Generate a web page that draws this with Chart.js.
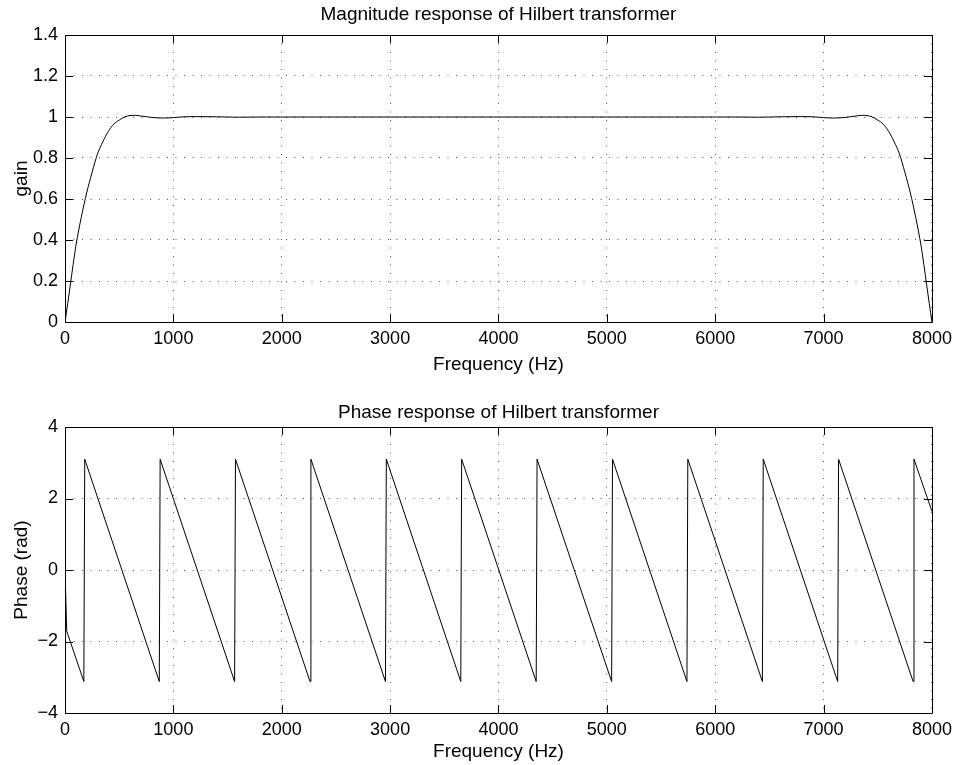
<!DOCTYPE html>
<html>
<head>
<meta charset="utf-8">
<script src="https://cdn.jsdelivr.net/npm/chart.js@4/dist/chart.umd.min.js"></script>
<style>
  html, body { margin: 0; padding: 0; background: #fff; }
  #wrap { position: relative; width: 958px; height: 765px; overflow: hidden; }
  .box { position: absolute; left: 0; width: 958px; }
</style>
</head>
<body>
<div id="wrap">
  <div class="box" id="b1" style="top:0px;height:380px;"><canvas id="c1"></canvas></div>
  <div class="box" id="b2" style="top:390px;height:375px;"><canvas id="c2"></canvas></div>
</div>
<script>
// ---- Data ----
const freqTicks = [0, 1000, 2000, 3000, 4000, 5000, 6000, 7000, 8000];
const gainTicks = [0, 0.2, 0.4, 0.6, 0.8, 1, 1.2, 1.4];
const phaseTicks = [-4, -2, 0, 2, 4];

const magFreq = [0, 25, 50, 75, 100, 150, 200, 250, 300, 350, 400, 450, 500, 550, 600, 650, 700, 800, 900, 1000, 1100, 1200, 1400, 1600, 1800, 2000, 2500, 3000, 3500, 4000, 4500, 5000, 5500, 6000, 6200, 6400, 6600, 6800, 6900, 7000, 7100, 7200, 7300, 7350, 7400, 7450, 7500, 7550, 7600, 7650, 7700, 7750, 7800, 7850, 7900, 7925, 7950, 7975, 8000];
const magGain = [0, 0.09, 0.185, 0.28, 0.37, 0.51, 0.63, 0.73, 0.82, 0.88, 0.93, 0.965, 0.985, 1.0, 1.007, 1.008, 1.005, 0.998, 0.995, 0.997, 1.001, 1.002, 1.001, 0.999, 1.0, 1.0, 1.0, 1.0, 1.0, 1.0, 1.0, 1.0, 1.0, 1.0, 1.0, 0.999, 1.001, 1.002, 1.001, 0.997, 0.995, 0.998, 1.005, 1.008, 1.007, 1.0, 0.985, 0.965, 0.93, 0.88, 0.82, 0.73, 0.63, 0.51, 0.37, 0.28, 0.185, 0.09, 0];

const phaseFreq = [0, 16, 174, 182, 870, 878, 1565, 1573, 2261, 2269, 2957, 2965, 3652, 3660, 4348, 4356, 5044, 5052, 5739, 5747, 6435, 6443, 7130, 7138, 7826, 7834, 8000];
const phaseRad = [0, -1.71, -3.12, 3.1, -3.12, 3.1, -3.12, 3.1, -3.12, 3.1, -3.12, 3.1, -3.12, 3.1, -3.12, 3.1, -3.12, 3.1, -3.12, 3.1, -3.12, 3.1, -3.12, 3.1, -3.12, 3.1, 1.64];

// ---- Styling helpers ----
const FONT = "'Liberation Sans', Arial, Helvetica, sans-serif";
Chart.defaults.font.family = FONT;
Chart.defaults.color = '#000';

function pts(xs, ys) { return xs.map((x, i) => ({ x: x, y: ys[i] })); }
function fmt(v) { return v < 0 ? '\u2212' + Math.abs(v) : String(v); }

// MATLAB-style frame, inward tick marks and axes title centred over the plot area
const matlabBox = {
  id: 'matlabBox',
  afterDraw(chart, args, opts) {
    const ctx = chart.ctx, a = chart.chartArea;
    const xs = chart.scales.x, ys = chart.scales.y;
    ctx.save();
    ctx.strokeStyle = '#000';
    ctx.lineWidth = 1;
    ctx.beginPath();
    ctx.rect(Math.round(a.left) + 0.5, Math.round(a.top) + 0.5, Math.round(a.right - a.left), Math.round(a.bottom - a.top));
    ctx.stroke();
    const L = 8;
    ctx.beginPath();
    xs.ticks.forEach(t => {
      const p = Math.round(xs.getPixelForValue(t.value)) + 0.5;
      ctx.moveTo(p, a.bottom); ctx.lineTo(p, a.bottom - L);
      ctx.moveTo(p, a.top); ctx.lineTo(p, a.top + L);
    });
    ys.ticks.forEach(t => {
      const p = Math.round(ys.getPixelForValue(t.value)) + 0.5;
      ctx.moveTo(a.left, p); ctx.lineTo(a.left + L, p);
      ctx.moveTo(a.right, p); ctx.lineTo(a.right - L, p);
    });
    ctx.stroke();
    if (opts && opts.text) {
      ctx.fillStyle = '#000';
      ctx.font = '19px ' + FONT;
      ctx.textAlign = 'center';
      ctx.textBaseline = 'alphabetic';
      ctx.fillText(opts.text, (a.left + a.right) / 2, a.top - opts.gap);
    }
    ctx.restore();
  }
};

function makeChart(id, cfg) {
  const c = document.getElementById(id);
  return new Chart(c, {
    type: 'line',
    data: { datasets: [{
      data: cfg.data,
      borderColor: '#000',
      borderWidth: 1,
      pointRadius: 0,
      fill: false,
      cubicInterpolationMode: cfg.smooth ? 'monotone' : 'default',
      tension: 0
    }] },
    options: {
      responsive: true,
      maintainAspectRatio: false,
      animation: false,
      events: [],
      layout: { padding: { left: 0, right: 24, top: cfg.topPad, bottom: 0 } },
      plugins: {
        legend: { display: false },
        tooltip: { enabled: false },
        title: { display: false },
        matlabBox: { text: cfg.title, gap: cfg.titleGap }
      },
      scales: {
        x: {
          type: 'linear',
          min: 0, max: 8000,
          afterBuildTicks: s => { s.ticks = freqTicks.map(v => ({ value: v })); },
          afterFit: s => { s.height = cfg.xAxisH; },
          ticks: { color: '#000', font: { size: 18, family: FONT }, padding: 6, maxRotation: 0, callback: v => fmt(v) },
          grid: { drawTicks: false, color: '#555', lineWidth: 1 },
          border: { display: false, dash: [1, 7.5] },
          title: { display: true, text: 'Frequency (Hz)', color: '#000', font: { size: 19, family: FONT }, padding: { top: 0, bottom: cfg.xTitleBottom } }
        },
        y: {
          type: 'linear',
          min: cfg.ymin, max: cfg.ymax,
          afterBuildTicks: s => { s.ticks = cfg.yTicks.map(v => ({ value: v })); },
          afterFit: s => { s.width = 65; },
          ticks: { color: '#000', font: { size: 18, family: FONT }, padding: 7, callback: v => fmt(v) },
          grid: { drawTicks: false, color: '#555', lineWidth: 1 },
          border: { display: false, dash: [1, 7.5] },
          title: { display: true, text: cfg.ylabel, color: '#000', font: { size: 19, family: FONT }, padding: { top: 10, bottom: 0 } }
        }
      }
    },
    plugins: [matlabBox]
  });
}

makeChart('c1', {
  data: pts(magFreq, magGain),
  smooth: true,
  title: 'Magnitude response of Hilbert transformer',
  titleGap: 15,
  topPad: 35,
  xAxisH: 58, xTitleBottom: 4,
  ymin: 0, ymax: 1.4, yTicks: gainTicks, ylabel: 'gain'
});

makeChart('c2', {
  data: pts(phaseFreq, phaseRad),
  smooth: false,
  title: 'Phase response of Hilbert transformer',
  titleGap: 9,
  topPad: 37,
  xAxisH: 52, xTitleBottom: 2,
  ymin: -4, ymax: 4, yTicks: phaseTicks, ylabel: 'Phase (rad)'
});
</script>
</body>
</html>
